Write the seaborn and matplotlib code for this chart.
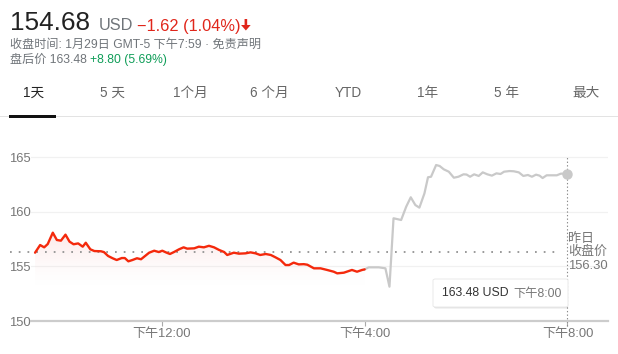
import numpy as np
import pandas as pd
import matplotlib
matplotlib.use("Agg")
import matplotlib.pyplot as plt
import seaborn as sns
from matplotlib.patches import FancyBboxPatch, Rectangle, Polygon
from matplotlib.colors import to_rgb

# ---------------- data ----------------
regular_hours = [9.50, 9.60, 9.68, 9.75, 9.85, 9.93, 10.01, 10.10, 10.18, 10.26, 10.35, 10.44,
                 10.50, 10.59, 10.67, 10.80, 10.86, 10.94, 11.03, 11.11, 11.21, 11.27, 11.34,
                 11.42, 11.51, 11.59, 11.67, 11.75, 11.85, 11.94, 12.01, 12.08, 12.16, 12.24,
                 12.34, 12.43, 12.50, 12.64, 12.73, 12.83, 12.93, 13.03, 13.13, 13.23, 13.29,
                 13.42, 13.52, 13.65, 13.75, 13.85, 13.94, 14.05, 14.15, 14.24, 14.34, 14.44,
                 14.51, 14.60, 14.70, 14.80, 14.87, 15.00, 15.13, 15.26, 15.39, 15.46, 15.59,
                 15.75, 15.85, 15.95, 16.00]
regular_prices = [156.25, 156.95, 156.74, 157.04, 158.08, 157.41, 157.35, 157.90, 157.26, 157.02,
                  157.10, 156.80, 157.16, 156.56, 156.40, 156.38, 156.30, 155.95, 155.74, 155.58,
                  155.76, 155.76, 155.46, 155.58, 155.74, 155.65, 155.95, 156.25, 156.43, 156.31,
                  156.43, 156.28, 156.13, 156.31, 156.56, 156.74, 156.62, 156.65, 156.80, 156.74,
                  156.88, 156.74, 156.50, 156.31, 156.04, 156.25, 156.16, 156.19, 156.28, 156.19,
                  156.04, 156.13, 156.04, 155.83, 155.58, 155.12, 155.12, 155.34, 155.18, 155.20,
                  155.15, 154.82, 154.82, 154.67, 154.51, 154.36, 154.42, 154.67, 154.51, 154.67,
                  154.72]
post_hours = [16.00, 16.08, 16.28, 16.41, 16.49, 16.57, 16.72, 16.82, 16.91, 17.00, 17.08, 17.18,
              17.25, 17.31, 17.41, 17.48, 17.56, 17.66, 17.76, 17.85, 17.95, 18.01, 18.08, 18.16,
              18.25, 18.33, 18.42, 18.51, 18.60, 18.68, 18.75, 18.86, 18.94, 19.04, 19.13, 19.22,
              19.30, 19.38, 19.45, 19.51, 19.59, 19.69, 19.79, 19.87, 20.00]
post_prices = [154.72, 154.91, 154.91, 154.82, 153.14, 159.40, 159.24, 160.46, 161.32, 160.61,
               160.37, 161.68, 163.15, 163.20, 164.27, 164.18, 163.88, 163.66, 163.11, 163.20,
               163.42, 163.40, 163.20, 163.42, 163.27, 163.60, 163.42, 163.30, 163.51, 163.45,
               163.66, 163.72, 163.70, 163.60, 163.27, 163.36, 163.20, 163.39, 163.30, 163.08,
               163.33, 163.33, 163.33, 163.48, 163.48]
prev_close = 156.30
y_ticks = [150, 155, 160, 165]
x_ticks = [12, 16, 20]
x_tick_labels = ["下午12:00", "下午4:00", "下午8:00"]
tabs = ["1天", "5 天", "1个月", "6 个月", "YTD", "1年", "5 年", "最大"]
tab_centers_px = [34, 112, 190, 269, 348, 428, 507, 586]

# ---------------- style ----------------
sns.set_theme(style="white")
FAM = ["Liberation Sans", "Noto Sans CJK SC", "DejaVu Sans"]
plt.rcParams["font.family"] = FAM

W, H = 618, 354
fig = plt.figure(figsize=(W / 100, H / 100), dpi=100)
fig.patch.set_facecolor("white")

def fx(px):
    return px / W

def fy(py):
    return 1 - py / H

# axes: left 31px, right 608px, bottom 321px, top 140px
ax = fig.add_axes([fx(31), fy(321), fx(608) - fx(31), fy(140) - fy(321)])
ax.set_facecolor("white")

RED = "#f4290c"
GRAY_LINE = "#c9c9c9"
TXT_GRAY = "#70757a"

reg = pd.DataFrame({"t": regular_hours, "p": regular_prices})
post = pd.DataFrame({"t": post_hours, "p": post_prices})

xmin, xmax = 9.42, 20.80
ymin, ymax = 150, 166.56

# grid lines
for yv in y_ticks[1:]:
    ax.axhline(yv, color="#f1f1f1", lw=0.9, zorder=0)

# gradient fill under regular session line
fill_bottom = 153.0
poly = ax.fill_between(reg["t"], reg["p"], fill_bottom, color="none", lw=0)
grad = np.zeros((100, 2, 4))
r, g, b = to_rgb("#f9c9c9")
grad[..., 0], grad[..., 1], grad[..., 2] = r, g, b
grad[..., 3] = (np.linspace(0.0, 1.0, 100) ** 1.6 * 0.42)[:, None]
im = ax.imshow(grad, extent=[min(regular_hours), max(regular_hours), fill_bottom, max(regular_prices)],
               origin="lower", aspect="auto", zorder=1, interpolation="bilinear")
im.set_clip_path(poly.get_paths()[0], transform=ax.transData)

# previous close dotted line (extends into the label margin)
ax.plot([xmin - 0.42, 19.87], [prev_close, prev_close], color="#9a9a9a", lw=1.4,
        linestyle=(0, (0.9, 3.6)), clip_on=False, zorder=2)

# lines
sns.lineplot(data=post, x="t", y="p", ax=ax, color=GRAY_LINE, lw=1.6, sort=False,
             estimator=None, zorder=3)
sns.lineplot(data=reg, x="t", y="p", ax=ax, color=RED, lw=1.7, sort=False,
             estimator=None, zorder=4)

# vertical dotted line at last point
ax.plot([post_hours[-1], post_hours[-1]], [149.55, 165.1], color="#8a8a8a", lw=0.8,
        linestyle=(0, (1.2, 2.0)), clip_on=False, zorder=2)
# endpoint marker
ax.plot([post_hours[-1]], [post_prices[-1]], "o", color=GRAY_LINE, ms=6.5, zorder=5, clip_on=False)

ax.set_xlim(xmin, xmax)
ax.set_ylim(ymin, ymax)
ax.set_xlabel("")
ax.set_ylabel("")

for s in ["top", "right", "left"]:
    ax.spines[s].set_visible(False)
ax.spines["bottom"].set_color("#cccccc")
ax.spines["bottom"].set_linewidth(1.6)

ax.set_yticks(y_ticks)
ax.set_yticklabels([str(v) for v in y_ticks])
ax.set_xticks(x_ticks)
ax.set_xticklabels(x_tick_labels)
ax.tick_params(axis="y", length=0, pad=0.5, labelsize=9.4, labelcolor="#777777")
ax.tick_params(axis="x", length=3.6, width=0.8, color="#aaaaaa", pad=1.5, labelsize=9.4,
               labelcolor="#777777", bottom=True)
for lab in ax.get_xticklabels() + ax.get_yticklabels():
    lab.set_family(FAM)

# previous close label
ax.annotate("昨日\n收盘价\n" + f"{prev_close:.2f}", xy=(post_hours[-1], prev_close),
            xytext=(0.5, 0), textcoords="offset points", ha="left", va="center",
            fontsize=9.4, color="#777777", linespacing=1.15, family=FAM, annotation_clip=False)

# tooltip box
shadow = FancyBboxPatch((fx(434), fy(308.5)), fx(568) - fx(434), fy(280) - fy(308),
                        boxstyle="round,pad=0,rounding_size=0.004", transform=fig.transFigure,
                        facecolor="#000000", alpha=0.10, edgecolor="none", zorder=9)
fig.patches.append(shadow)
box = FancyBboxPatch((fx(433), fy(307)), fx(568) - fx(433), fy(279) - fy(307),
                     boxstyle="round,pad=0,rounding_size=0.004", transform=fig.transFigure,
                     facecolor="white", edgecolor="#e6e6e6", lw=0.6, zorder=10)
fig.patches.append(box)
fig.text(fx(442), fy(293.5), f"{post_prices[-1]:.2f} USD", fontsize=8.8, color="#333333",
         va="center", ha="left", family=FAM, zorder=11)
fig.text(fx(513), fy(293.5), x_tick_labels[-1], fontsize=8.8, color="#777777",
         va="center", ha="left", family=FAM, zorder=11)

# ---------------- header ----------------
renderer = fig.canvas.get_renderer()

def chain(x_px, y_px, s, gap=0, **kw):
    t = fig.text(fx(x_px), fy(y_px), s, family=FAM, va="baseline", ha="left", **kw)
    bb = t.get_window_extent(renderer=renderer)
    return x_px + bb.width + gap

RED_T = "#e0261b"
x = chain(10, 30.5, "154.68", fontsize=18.8, color="#222222")
x = chain(x + 9, 30.5, "USD", fontsize=11.8, color=TXT_GRAY)
x = chain(x + 4, 30.5, "−1.62 (1.04%)", fontsize=11.8, color=RED_T)
# bold down arrow
ax0 = x + 5
arrow_pts = [(ax0 - 1.3, 19), (ax0 + 1.3, 19), (ax0 + 1.3, 25), (ax0 + 4.8, 25),
             (ax0, 30.5), (ax0 - 4.8, 25), (ax0 - 1.3, 25)]
fig.add_artist(Polygon([(fx(px), fy(py)) for px, py in arrow_pts], closed=True,
                       transform=fig.transFigure, facecolor=RED_T, edgecolor="none"))

fig.text(fx(10), fy(45), "收盘时间: 1月29日 GMT-5 下午7:59 · 免责声明", fontsize=8.7,
         color=TXT_GRAY, va="center", ha="left", family=FAM)
x = chain(10, 62.5, "盘后价 163.48 ", fontsize=8.7, color=TXT_GRAY)
chain(x, 62.5, "+8.80 (5.69%)", fontsize=8.7, color="#0f9d58")

# tabs
for i, (lab, cx) in enumerate(zip(tabs, tab_centers_px)):
    fig.text(fx(cx), fy(93), lab, fontsize=9.8, color="#222222" if i == 0 else "#666666",
             ha="center", va="center", family=FAM)
fig.add_artist(Rectangle((0, fy(117)), 1, 1.2 / H, transform=fig.transFigure,
                         facecolor="#e3e3e3", edgecolor="none"))
fig.add_artist(Rectangle((fx(9), fy(117.5)), fx(56) - fx(9), 2.6 / H, transform=fig.transFigure,
                         facecolor="#111111", edgecolor="none"))

fig.savefig("out.png", dpi=100)
